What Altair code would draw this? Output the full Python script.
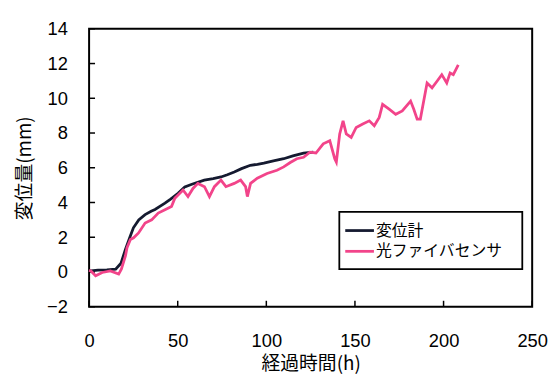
import altair as alt
import pandas as pd

# 変位計 (displacement gauge)
t_disp = [0, 1, 5, 10, 15, 18, 20.5, 23, 25, 28, 31.6, 35, 37.2, 42.8, 46, 50.2, 54, 58, 65, 70, 74.4, 78,
          81.9, 86, 91, 95, 98.6, 104, 109.8, 115, 121, 126.5]
v_disp = [0.1, 0.06, 0.1, 0.12, 0.16, 0.5, 1.3, 2.0, 2.54, 3.0, 3.3, 3.5, 3.6, 3.96, 4.2, 4.53, 4.9, 5.05, 5.29, 5.38,
          5.47, 5.6, 5.76, 5.95, 6.14, 6.2, 6.27, 6.4, 6.52, 6.68, 6.84, 6.9]

# 光ファイバセンサ (optical fibre sensor)
t_fiber = [0, 1, 3.7, 7.4, 12, 16.7, 18.2, 20.5, 21.4, 23.3, 25.1, 27.9, 31.6, 35.3, 39, 42.8, 46.5, 48.4, 50.2,
           53, 55.8, 58.6, 61.4, 65.1, 67.9, 70.7, 74.4, 77.2, 81.9, 85.5, 88.3, 89.3, 91.1, 94.9, 100.4, 106,
           109.8, 113.5, 117.2, 121, 124.6, 128, 132.1, 135.8, 138.6, 139.5, 141.4, 143.3, 145.1, 147.9, 150.7,
           154.4, 158.1, 160.9, 163.7, 165.6, 169.3, 173, 176.7, 181.4, 183.2, 185.1, 186.9, 188.8, 190.7, 193.5,
           196.3, 199, 201.8, 203.7, 205.5, 208.3]
v_fiber = [0.1, 0.06, -0.22, -0.03, 0.06, -0.12, 0.16, 0.92, 1.4, 1.87, 1.97, 2.25, 2.82, 3.0, 3.39, 3.58, 3.77,
           4.25, 4.43, 4.72, 4.34, 4.81, 5.1, 4.91, 4.34, 4.91, 5.29, 4.91, 5.1, 5.29, 4.91, 4.34, 5.1, 5.4, 5.67,
           5.86, 6.05, 6.3, 6.52, 6.6, 6.9, 6.85, 7.38, 7.56, 6.52, 6.33, 7.95, 8.7, 7.95, 7.75, 8.32, 8.52, 8.7,
           8.42, 8.9, 9.65, 9.37, 9.08, 9.27, 9.84, 9.37, 8.8, 8.8, 9.84, 10.88, 10.6, 10.98, 11.36, 10.88, 11.46,
           11.36, 11.93]

series_names = ["変位計", "光ファイバセンサ"]
series_colors = ["#151a30", "#f2448a"]
x_ticks = [0, 50, 100, 150, 200, 250]
y_ticks = [-2, 0, 2, 4, 6, 8, 10, 12, 14]

W, H = 448, 281
JP = "Noto Sans CJK JP"
NUM = "Liberation Sans"

df_disp = pd.DataFrame({"t": t_disp, "v": v_disp, "s": series_names[0]})
df_fiber = pd.DataFrame({"t": t_fiber, "v": v_fiber, "s": series_names[1]})

xscale = alt.Scale(domain=[0, 250], nice=False)
yscale = alt.Scale(domain=[-2, 14], nice=False)

xaxis = alt.Axis(values=x_ticks, grid=False, ticks=False, domain=False, labelFont=NUM, labelFontSize=18.5,
                 labelColor="black", labelPadding=25, title="経過時間(h)", titleFont=JP, titleFontSize=19,
                 titleFontWeight="normal", titleColor="black", titlePadding=5, labelFlush=False)
yaxis = alt.Axis(values=y_ticks, grid=False, ticks=False, domain=False, labelFont=NUM, labelFontSize=18.5,
                 labelColor="black", labelPadding=22, title="変位量(mm)", titleFont=JP, titleFontSize=19,
                 titleFontWeight="normal", titleColor="black", titlePadding=12, labelFlush=False)


def line(df, color):
    return alt.Chart(df).mark_line(strokeWidth=2.8, color=color).encode(
        x=alt.X("t:Q", scale=xscale, axis=xaxis),
        y=alt.Y("v:Q", scale=yscale, axis=yaxis),
    )


ytick_df = pd.DataFrame({"v": y_ticks})
xtick_df = pd.DataFrame({"t": x_ticks})
yticks = alt.Chart(ytick_df).mark_rule(color="black", strokeWidth=1.5).encode(
    y=alt.Y("v:Q", scale=yscale, axis=yaxis), x=alt.value(0), x2=alt.value(6))
xticks = alt.Chart(xtick_df).mark_rule(color="black", strokeWidth=1.5).encode(
    x=alt.X("t:Q", scale=xscale, axis=xaxis), y=alt.value(H), y2=alt.value(H - 6))

# legend drawn by hand inside the plot area
LX, LY, LW, LH = 253, 185, 185, 58
legend_box = alt.Chart(pd.DataFrame({"s": ["box"]})).mark_rect(
    fill="white", stroke="black", strokeWidth=1.8).encode(
    x=alt.value(LX), x2=alt.value(LX + LW), y=alt.value(LY), y2=alt.value(LY + LH))
legend_layers = []
for i, (name, col) in enumerate(zip(series_names, series_colors)):
    yy = LY + 19 + 21 * i
    d = pd.DataFrame({"s": [name]})
    legend_layers.append(alt.Chart(d).mark_rule(color=col, strokeWidth=2.8).encode(
        x=alt.value(LX + 6), x2=alt.value(LX + 35), y=alt.value(yy)))
    legend_layers.append(alt.Chart(d).mark_text(
        align="left", baseline="middle", font=JP, fontSize=16, color="black").encode(
        text="s:N", x=alt.value(LX + 37), y=alt.value(yy)))

chart = alt.layer(yticks, xticks, line(df_disp, series_colors[0]), line(df_fiber, series_colors[1]),
                  legend_box, *legend_layers).properties(
    width=W, height=H, autosize="none",
    padding={"left": 82, "top": 19, "right": 16, "bottom": 66},
    background="white",
).configure_view(stroke="black", strokeWidth=2)

chart.save("out.html", embed_options={"renderer": "svg", "actions": False})
